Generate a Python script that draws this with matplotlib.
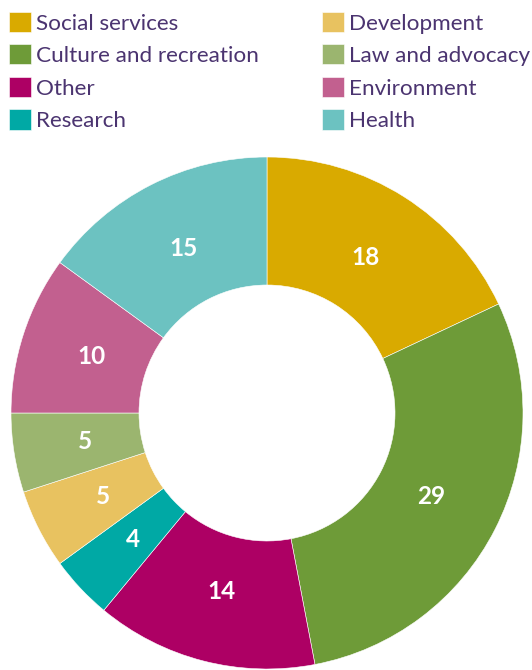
"""Donut chart of sector shares."""

import matplotlib

matplotlib.use("Agg")
import matplotlib.pyplot as plt
import numpy as np

categories = [
    "Social services",
    "Culture and recreation",
    "Other",
    "Research",
    "Development",
    "Law and advocacy",
    "Environment",
    "Health",
]
shares = [18, 29, 14, 4, 5, 5, 10, 15]
colors = ["#D9AA00", "#6E9B38", "#AD0064", "#00A9A5", "#E8C260", "#9BB56F", "#C2608F", "#6CC2C1"]

TEXT_COLOR = "#4B3470"

plt.rcParams["font.family"] = ["Lato", "DejaVu Sans"]

fig = plt.figure(figsize=(5.32, 6.70), dpi=100)
W, H = 532, 670
cx, cy, r = 267, 413, 256
ax = fig.add_axes([(cx - r) / W, (H - cy - r) / H, 2 * r / W, 2 * r / H])

wedges, _ = ax.pie(
    shares,
    colors=colors,
    startangle=90,
    counterclock=False,
    radius=1.0,
    wedgeprops={"width": 0.5, "edgecolor": "white", "linewidth": 0.4},
)
ax.set_xlim(-1, 1)
ax.set_ylim(-1, 1)
ax.set_aspect("equal")
ax.axis("off")

# value labels in the middle of each ring segment
cum = np.cumsum([0] + shares)
total = cum[-1]
for i, v in enumerate(shares):
    mid = (cum[i] + cum[i + 1]) / 2 / total
    ang = np.deg2rad(90 - 360 * mid)
    ax.text(
        0.72 * np.cos(ang),
        0.72 * np.sin(ang),
        str(v),
        ha="center",
        va="center",
        color="white",
        fontsize=17.5,
        fontweight="bold",
    )

leg = fig.legend(
    wedges,
    categories,
    ncol=2,
    loc="upper left",
    bbox_to_anchor=(2 / W, 1 - 5 / H),
    frameon=False,
    fontsize=16.2,
    handlelength=1.0,
    handleheight=1.0,
    handletextpad=0.2,
    labelspacing=0.48,
    columnspacing=2.8,
    borderaxespad=0,
    borderpad=0.3,
)
for t in leg.get_texts():
    t.set_color(TEXT_COLOR)

fig.savefig("out.png", dpi=100)
